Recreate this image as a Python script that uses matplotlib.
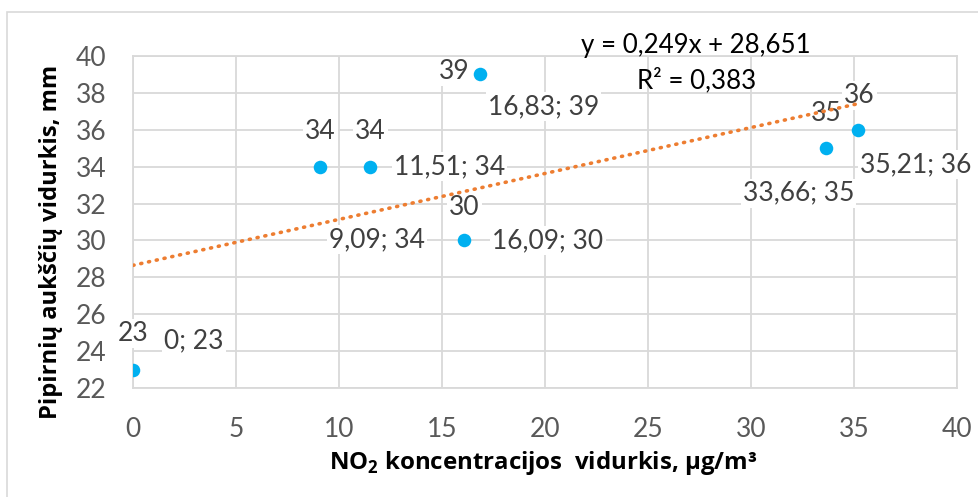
import matplotlib
matplotlib.use("Agg")
import matplotlib.pyplot as plt
from matplotlib.patches import Rectangle
import numpy as np

# ---- data ----
no2 = [0, 9.09, 11.51, 16.09, 16.83, 33.66, 35.21]
height = [23, 34, 34, 30, 39, 35, 36]
trend_slope = 0.249
trend_intercept = 28.651
r_squared = 0.383
x_ticks = [0, 5, 10, 15, 20, 25, 30, 35, 40]
y_ticks = [22, 24, 26, 28, 30, 32, 34, 36, 38, 40]
x_label = "NO$_\\mathbf{2}$ koncentracijos  vidurkis, µg/m³"
y_label = "Pipirnių aukščių vidurkis, mm"

# ---- layout (pixel offsets of labels relative to their points) ----
val_off = [(0, 36), (0, 35), (0, 35), (0, 33), (-26, 3), (0, 35), (1, 34)]
val_ha = ["center"] * 7
xy_off = [(61, 29), (57, -73), (24, 0), (28, 0), (64, -32), (-28, -45), (57, -35)]
xy_ha = ["center", "center", "left", "left", "center", "center", "center"]

W, H = 979, 497
LAB_FONT = 'Open Sans'
plt.rcParams['font.family'] = ['Lato', 'DejaVu Sans']
plt.rcParams['mathtext.fontset'] = 'custom'
plt.rcParams['mathtext.rm'] = LAB_FONT
plt.rcParams['mathtext.bf'] = LAB_FONT + ':bold'

fig = plt.figure(figsize=(W / 100, H / 100), dpi=100)
fig.patch.set_facecolor('white')
fig.patches.append(Rectangle((7.5 / W, -0.2), 1.2, 1.2 - 11.5 / H,
                             transform=fig.transFigure, fill=False,
                             edgecolor='#D9D9D9', linewidth=1.2))

ax = fig.add_axes([133 / W, 1 - 388 / H, (957 - 133) / W, (388 - 56) / H])
ax.set_xlim(0, 40)
ax.set_ylim(22, 40)
ax.set_xticks(x_ticks)
ax.set_yticks(y_ticks)
ax.grid(True, color='#D9D9D9', linewidth=1.3, zorder=0)
ax.set_axisbelow(True)
for s in ax.spines.values():
    s.set_color('#D9D9D9')
    s.set_linewidth(1.3)
ax.tick_params(length=0, labelsize=19, colors='#595959')
ax.tick_params(axis='x', pad=21)
ax.tick_params(axis='y', pad=19)

ax.scatter(no2, height, s=95, color='#00B0F0', zorder=5, linewidths=0)

xt = np.array([0, max(no2)])
ax.plot(xt, trend_intercept + trend_slope * xt, color='#ED7D31', linewidth=2.6,
        linestyle=(0, (0.3, 1.9)), dash_capstyle='round', zorder=4)

def fmt(v):
    return f"{v:g}".replace('.', ',')

bb = dict(facecolor='white', edgecolor='none', pad=1.5)
for i, (x, y) in enumerate(zip(no2, height)):
    ax.annotate(fmt(y), (x, y), xytext=val_off[i], textcoords='offset pixels',
                ha=val_ha[i], va='center', fontsize=19, color='#404040',
                bbox=bb, zorder=3, annotation_clip=False)
    ax.annotate(f"{fmt(x)}; {fmt(y)}", (x, y), xytext=xy_off[i],
                textcoords='offset pixels', ha=xy_ha[i], va='center',
                fontsize=19, color='#404040', bbox=bb, zorder=3,
                annotation_clip=False)

eq = f"y = {fmt(trend_slope)}x + {fmt(trend_intercept)}"
fig.text(696 / W, 1 - 46 / H, eq, ha='center', va='center', fontsize=18.6, color='black')
fig.text(697 / W, 1 - 80 / H, f"R² = {fmt(r_squared)}", ha='center', va='center',
         fontsize=18.6, color='black')

tx = fig.text(543 / W, 1 - 463 / H, x_label, ha='center', va='center',
              fontsize=16, fontweight='bold', family=LAB_FONT, color='black')
ty = fig.text(51 / W, 1 - 242 / H, y_label, ha='center', va='center', rotation=90,
              fontsize=16, fontweight='bold', family=LAB_FONT, color='black')

# fit label sizes to the reference extents
r = fig.canvas.get_renderer()
wx = tx.get_window_extent(r).width
tx.set_fontsize(16 * 430 / wx)
hy = ty.get_window_extent(r).height
ty.set_fontsize(16 * 355 / hy)

fig.savefig('out.png', dpi=100)
